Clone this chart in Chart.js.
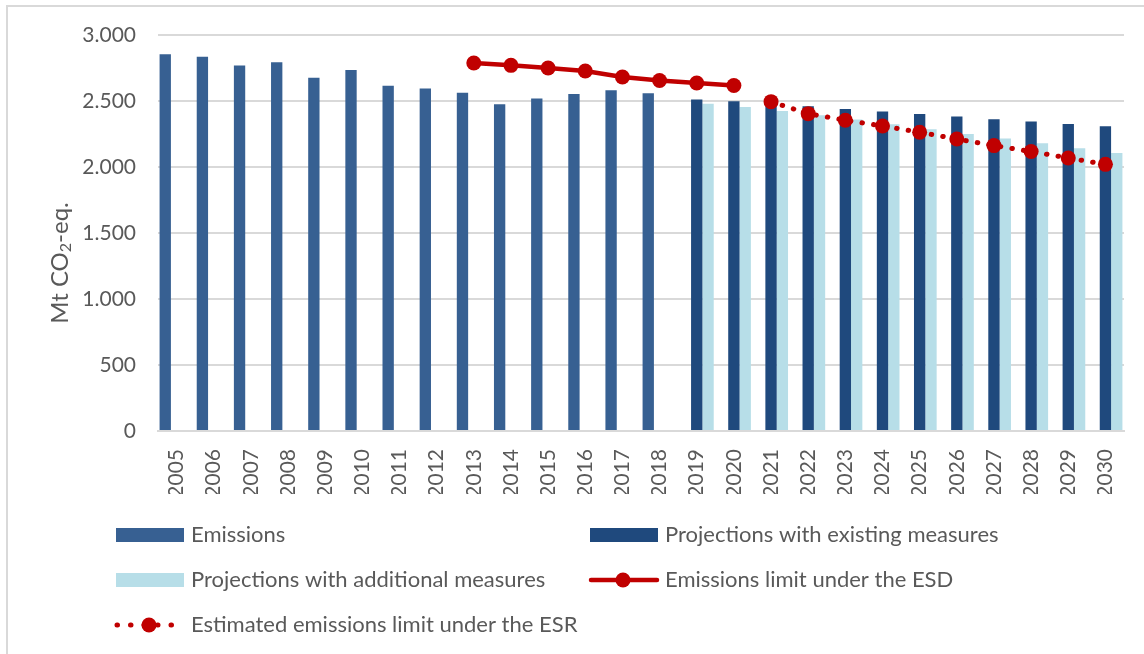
<!DOCTYPE html>
<html>
<head>
<meta charset="utf-8">
<script src="https://cdn.jsdelivr.net/npm/chart.js@4/dist/chart.umd.min.js"></script>
<style>
  body { margin: 0; background: #fff; overflow: hidden; }
  #frame {
    position: absolute; left: 6px; top: 5px; width: 1300px; height: 800px;
    border-left: 2px solid #d9d9d9; border-top: 2px solid #d9d9d9;
  }
  #wrap { position: absolute; left: 0; top: 0; width: 1144px; height: 654px; }
</style>
</head>
<body>
<div id="frame"></div>
<div id="wrap"><canvas id="chart"></canvas></div>
<script>
// Data (Mt CO2-eq.)
const years = ["2005", "2006", "2007", "2008", "2009", "2010", "2011", "2012", "2013",
    "2014", "2015", "2016", "2017", "2018", "2019", "2020", "2021", "2022", "2023",
    "2024", "2025", "2026", "2027", "2028", "2029", "2030"];

const emissions = [2854, 2836, 2768, 2793, 2677, 2735, 2616, 2594, 2563, 2475, 2518, 2553,
    2581, 2558, null, null, null, null, null, null, null, null, null, null, null, null];

const withExisting = [null, null, null, null, null, null, null, null, null, null, null, null,
    null, null, 2511, 2498, 2480, 2460, 2440, 2420, 2402, 2382, 2361, 2344, 2326, 2309];

const withAdditional = [null, null, null, null, null, null, null, null, null, null, null, null,
    null, null, 2480, 2455, 2424, 2392, 2359, 2323, 2286, 2250, 2215, 2180, 2142, 2106];

const limitESD = [null, null, null, null, null, null, null, null, 2788, 2770, 2750, 2727,
    2682, 2655, 2636, 2617, null, null, null, null, null, null, null, null, null, null];

const limitESR = [null, null, null, null, null, null, null, null, null, null, null, null,
    null, null, null, null, 2495, 2404, 2354, 2311, 2263, 2212, 2162, 2117, 2068, 2020];

const yTicks = [0, 500, 1000, 1500, 2000, 2500, 3000];

const RED = "#C00000";
const TEXT = "#595959";
const FONT = "Lato, 'Open Sans', sans-serif";

// legend drawn as a 2-column grid like the Excel original
const legendSlots = [
    { x: 116, y: 535 },  // Emissions
    { x: 590, y: 535 },  // WEM
    { x: 116, y: 580 },  // WAM
    { x: 590, y: 580 },  // ESD
    { x: 116, y: 625 }   // ESR
];

const gridLegend = {
    id: "gridLegend",
    afterDraw(chart) {
        const ctx = chart.ctx;
        ctx.save();
        chart.data.datasets.forEach((ds, i) => {
            const s = legendSlots[i];
            if (!s) return;
            if (ds.type === "line") {
                ctx.strokeStyle = ds.borderColor;
                ctx.lineWidth = ds.borderWidth;
                ctx.lineCap = "round";
                ctx.setLineDash(ds.borderDash ? [0.5, 13] : []);
                ctx.beginPath();
                ctx.moveTo(s.x + 1, s.y);
                ctx.lineTo(s.x + 67, s.y);
                ctx.stroke();
                ctx.setLineDash([]);
                ctx.fillStyle = ds.pointBackgroundColor;
                ctx.beginPath();
                ctx.arc(s.x + 33, s.y, ds.pointRadius, 0, Math.PI * 2);
                ctx.fill();
            } else {
                ctx.fillStyle = ds.backgroundColor;
                ctx.fillRect(s.x, s.y - 7, 68, 14);
            }
            ctx.fillStyle = TEXT;
            ctx.font = "22px " + FONT;
            ctx.textBaseline = "middle";
            ctx.textAlign = "left";
            ctx.fillText(ds.label, s.x + 75, s.y);
        });
        ctx.restore();
    }
};

// y axis title with a real subscript 2, sitting a bit below the axis middle like the original
const yTitle = {
    id: "yTitle",
    afterDraw(chart) {
        const { ctx, chartArea } = chart;
        const parts = [["Mt CO", 24, 0], ["2", 16, 6], ["-eq.", 24, 0]];
        ctx.save();
        let total = 0;
        parts.forEach(([t, size]) => { ctx.font = size + "px " + FONT; total += ctx.measureText(t).width; });
        ctx.translate(60, (chartArea.top + chartArea.bottom) / 2 + 30);
        ctx.rotate(-Math.PI / 2);
        ctx.fillStyle = TEXT;
        ctx.textBaseline = "middle";
        ctx.textAlign = "left";
        let x = -total / 2;
        parts.forEach(([t, size, dy]) => {
            ctx.font = size + "px " + FONT;
            ctx.fillText(t, x, dy);
            x += ctx.measureText(t).width;
        });
        ctx.restore();
    }
};

const pointStyle = {
    pointRadius: 7.5,
    pointHoverRadius: 7.5,
    pointBackgroundColor: RED,
    pointBorderColor: RED,
    pointBorderWidth: 0
};

new Chart(document.getElementById("chart"), {
    data: {
        labels: years,
        datasets: [
            { type: "bar", label: "Emissions", data: emissions, backgroundColor: "#376092", order: 1 },
            { type: "bar", label: "Projections with existing measures", data: withExisting, backgroundColor: "#1F497D", order: 1 },
            { type: "bar", label: "Projections with additional measures", data: withAdditional, backgroundColor: "#B7DEE8", order: 1 },
            { type: "line", label: "Emissions limit under the ESD", data: limitESD, borderColor: RED,
              borderWidth: 4.5, order: 0, ...pointStyle },
            { type: "line", label: "Estimated emissions limit under the ESR", data: limitESR, borderColor: RED,
              borderWidth: 5, borderDash: [0.5, 11.2], borderCapStyle: "round", order: 0, ...pointStyle }
        ]
    },
    options: {
        responsive: true,
        maintainAspectRatio: false,
        animation: false,
        devicePixelRatio: 1,
        datasets: {
            bar: { categoryPercentage: 0.915, barPercentage: 1 },
            line: { tension: 0, fill: false, spanGaps: false }
        },
        layout: { padding: { left: 8, top: 35, right: 20, bottom: 160 } },
        plugins: {
            legend: { display: false },
            tooltip: { enabled: false }
        },
        scales: {
            x: {
                grid: { display: false },
                border: { display: true, color: "#d9d9d9", width: 2 },
                ticks: {
                    minRotation: 90, maxRotation: 90, padding: 10,
                    color: TEXT, font: { family: FONT, size: 21 }
                },
                afterFit(axis) { axis.height = 63; }
            },
            y: {
                min: 0,
                max: 3000,
                border: { display: false },
                grid: { color: "#d9d9d9", lineWidth: 2, drawTicks: false },
                afterBuildTicks(axis) { axis.ticks = yTicks.map(v => ({ value: v })); },
                ticks: {
                    padding: 22,
                    color: TEXT,
                    font: { family: FONT, size: 21 },
                    callback: v => v.toLocaleString("de-DE")
                },
                afterFit(axis) { axis.width = 150; }
            }
        }
    },
    plugins: [gridLegend, yTitle]
});
</script>
</body>
</html>
